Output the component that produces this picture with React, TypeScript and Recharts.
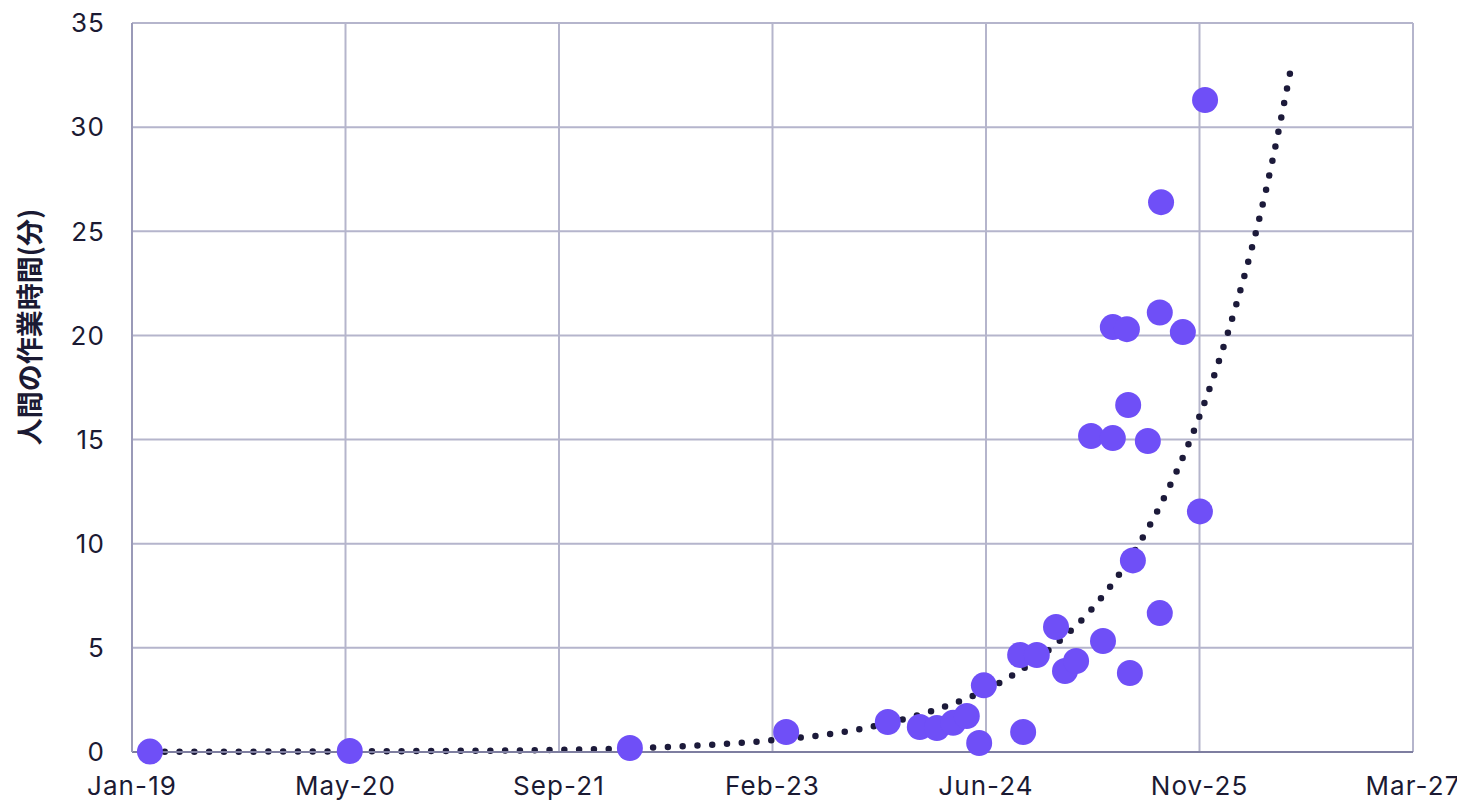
import React from "react";
import {
  ComposedChart,
  Scatter,
  Line,
  XAxis,
  YAxis,
  CartesianGrid,
} from "recharts";

// Observed tasks: release date and human working time (minutes)
const taskDates = [
  "2019-02-12", "2020-05-25", "2022-03-12", "2023-03-13", "2023-11-06",
  "2024-01-20", "2024-02-29", "2024-04-07", "2024-05-09", "2024-06-07",
  "2024-06-18", "2024-09-11", "2024-09-18", "2024-10-20", "2024-12-04",
  "2024-12-25", "2025-01-20", "2025-02-24", "2025-03-24", "2025-04-16",
  "2025-04-16", "2025-05-19", "2025-05-22", "2025-05-26", "2025-06-02",
  "2025-07-07", "2025-08-07", "2025-08-04", "2025-08-04", "2025-09-27",
  "2025-11-06", "2025-11-18",
];
const taskMinutes = [
  0.02, 0.05, 0.19, 0.96, 1.44,
  1.2, 1.15, 1.4, 1.73, 0.43,
  3.2, 4.66, 0.96, 4.66, 6.0,
  3.89, 4.37, 15.17, 5.33, 20.4,
  15.07, 20.3, 16.66, 3.79, 9.2,
  14.93, 26.4, 21.1, 6.67, 20.16,
  11.55, 31.3,
];

// Exponential trend line
const trendDates = [
  "2019-02-12", "2020-05-25", "2021-09-25", "2022-08-23", "2023-01-15",
  "2023-09-14", "2024-02-29", "2024-07-07", "2024-11-29", "2025-03-10",
  "2025-05-31", "2025-08-09", "2025-11-01", "2026-01-29", "2026-04-10",
  "2026-06-07",
];
const trendMinutes = [
  0.01, 0.03, 0.1, 0.32, 0.52,
  1.15, 2.05, 3.13, 5.1, 7.15,
  9.45, 12.0, 15.9, 21.4, 27.0,
  32.8,
];

// Axis ticks (days since 2019-01-01)
const xTicks = [0, 500, 1000, 1500, 2000, 2500, 3000];
const xTickLabels = ["Jan-19", "May-20", "Sep-21", "Feb-23", "Jun-24", "Nov-25", "Mar-27"];
const yTicks = [0, 5, 10, 15, 20, 25, 30, 35];
const yLabel = "人間の作業時間(分)";

const ORIGIN = Date.UTC(2019, 0, 1);
const toDays = (s: string) => {
  const [y, m, d] = s.split("-").map(Number);
  return (Date.UTC(y, m - 1, d) - ORIGIN) / 86400000;
};

const scatterData = taskDates.map((d, i) => ({ x: toDays(d), y: taskMinutes[i] }));
const trendData = trendDates.map((d, i) => ({ x: toDays(d), y: trendMinutes[i] }));

const FONT = "Inter, 'Noto Sans', 'Noto Sans CJK JP', sans-serif";
const TEXT = "#1b1a33";

const Dot = (p: any) => <circle cx={p.cx} cy={p.cy} r={13} fill="#6f4ff7" />;

const tickStyle = { fill: TEXT, fontSize: 26, fontFamily: FONT, letterSpacing: 1.1 };

export default function App() {
  return (
    <div style={{ width: 1457, height: 792 }}>
      <ComposedChart
        width={1457}
        height={792}
        margin={{ top: 15, right: 52, bottom: 0, left: 0 }}
      >
        <CartesianGrid stroke="#b5b5cc" strokeWidth={2} />
        <XAxis
          type="number"
          dataKey="x"
          domain={[0, 3000]}
          ticks={xTicks}
          tickFormatter={(_v: number, i: number) => xTickLabels[i]}
          height={48}
          axisLine={{ stroke: "#7e7ea0", strokeWidth: 2 }}
          tickLine={false}
          tickSize={6}
          tickMargin={19}
          tick={tickStyle}
          allowDataOverflow
        />
        <YAxis
          type="number"
          dataKey="y"
          domain={[0, 35]}
          ticks={yTicks}
          width={124}
          axisLine={{ stroke: "#9a9ab8", strokeWidth: 2 }}
          tickLine={false}
          tickSize={6}
          tickMargin={21}
          tick={tickStyle}
          label={{
            content: () => (
              <text
                x={20}
                y={319}
                transform="rotate(-90 20 319)"
                textAnchor="middle"
                dominantBaseline="central"
                fill={TEXT}
                fontSize={27}
                fontWeight={600}
                fontFamily="'Noto Sans CJK JP', sans-serif"
              >
                {yLabel}
              </text>
            ),
          }}
        />
        <Scatter
          data={scatterData}
          dataKey="y"
          shape={Dot}
          isAnimationActive={false}
        />
        <Line
          data={trendData}
          dataKey="y"
          type="monotone"
          stroke="#1c1a3a"
          strokeWidth={6.5}
          strokeDasharray="0 14.8"
          strokeLinecap="round"
          dot={false}
          activeDot={false}
          isAnimationActive={false}
        />
      </ComposedChart>
    </div>
  );
}
